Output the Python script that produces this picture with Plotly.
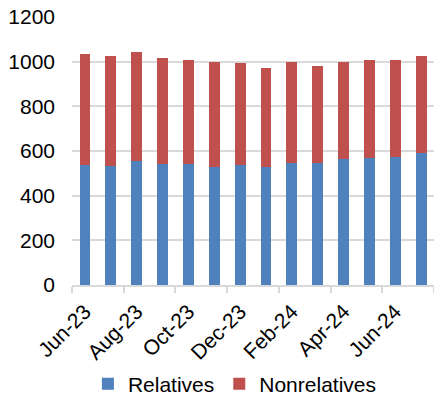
import plotly.graph_objects as go

months = ["Jun-23", "Jul-23", "Aug-23", "Sep-23", "Oct-23", "Nov-23", "Dec-23",
          "Jan-24", "Feb-24", "Mar-24", "Apr-24", "May-24", "Jun-24", "Jul-24"]
relatives = [539, 535, 557, 544, 542, 530, 536, 527, 548, 547, 562, 568, 572, 591]
totals = [1036, 1024, 1043, 1018, 1009, 998, 992, 973, 997, 979, 1000, 1006, 1009, 1024]
nonrelatives = [t - r for t, r in zip(totals, relatives)]

x_pos = list(range(len(months)))
label_pos = x_pos[::2]
label_text = months[::2]

fig = go.Figure()
fig.add_trace(go.Bar(x=x_pos, y=relatives, name="Relatives",
                     marker=dict(color="#4F81BD", line=dict(width=0)), width=0.42))
fig.add_trace(go.Bar(x=x_pos, y=nonrelatives, name="Nonrelatives",
                     marker=dict(color="#C0504D", line=dict(width=0)), width=0.42))

font_family = "Liberation Sans, Arial, sans-serif"
fig.update_layout(
    barmode="stack",
    width=434, height=396,
    margin=dict(l=72, r=0, t=17, b=111, autoexpand=False),
    paper_bgcolor="white", plot_bgcolor="white",
    font=dict(family=font_family, size=21, color="#000000"),
    showlegend=True,
    legend=dict(orientation="h", traceorder="normal", x=0.45, xanchor="center",
                y=-0.37, yanchor="middle", font=dict(size=21), tracegroupgap=0,
                itemwidth=30),
    xaxis=dict(
        range=[-0.5, 13.5], automargin=False,
        tickmode="array", tickvals=label_pos, ticktext=label_text,
        tickangle=-45, ticks="", showgrid=False,
        showline=True, linecolor="#d9d9d9", linewidth=2,
        minor=dict(ticks="outside", tick0=-0.5, dtick=2, ticklen=6,
                   tickcolor="#d9d9d9", tickwidth=2, showgrid=False),
        ticklabelstandoff=4,
    ),
    yaxis=dict(
        range=[0, 1200], tickvals=[0, 200, 400, 600, 800, 1000, 1200],
        showgrid=True, gridcolor="#d9d9d9", gridwidth=2, automargin=False,
        zeroline=False, ticks="", ticklabelstandoff=16,
    ),
)

fig.write_html("out.html")
